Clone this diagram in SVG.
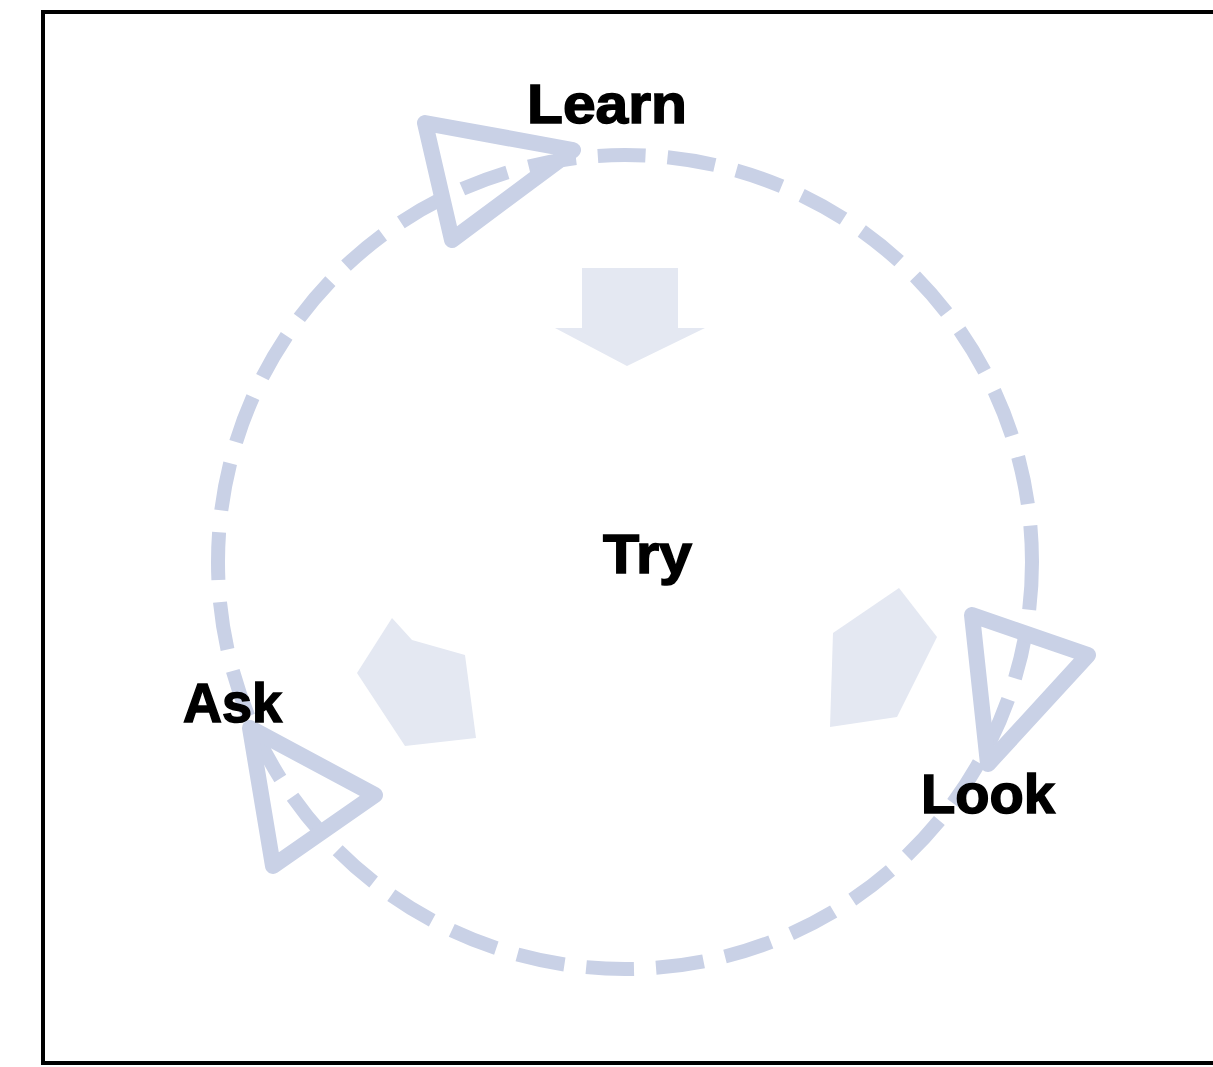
<svg xmlns="http://www.w3.org/2000/svg" width="1213" height="1067" viewBox="0 0 1213 1067">
<style>
.ring{fill:none;stroke:#c9d1e6;stroke-width:14;stroke-dasharray:48 22}
.head{fill:none;stroke:#c9d1e6;stroke-width:16;stroke-linejoin:round}
.block{fill:#e4e8f2}
.lbl{font-family:"Liberation Sans",Arial,sans-serif;font-weight:bold;font-size:56px;fill:#000;stroke:#000;stroke-width:1.5}
</style>
<rect x="0" y="0" width="1213" height="1067" fill="#fff"/>
<rect x="43" y="12" width="1190" height="1051" fill="none" stroke="#000" stroke-width="4"/>
<g id="connectors">
<circle class="ring" cx="625" cy="562" r="407"/>
<polygon class="head" points="425,123 573,150 452,240"/>
<polygon class="head" points="972,615 1088,655 988,764"/>
<polygon class="head" points="250,728 375,795 273,866"/>
<polygon class="block" points="582,268 678,268 678,328 705,328 627,366 555,328 582,328"/>
<polygon class="block" points="357,673 392,618 412,640 465,655 476,738 405,746"/>
<polygon class="block" points="899,588 833,633 830,727 897,717 937,637"/>
</g>
<g id="node-learn"><text class="lbl" x="527" y="123" textLength="160" lengthAdjust="spacingAndGlyphs">Learn</text></g>
<g id="node-try"><text class="lbl" x="603" y="573" textLength="89" lengthAdjust="spacingAndGlyphs">Try</text></g>
<g id="node-ask"><text class="lbl" x="183" y="722" textLength="99" lengthAdjust="spacingAndGlyphs">Ask</text></g>
<g id="node-look"><text class="lbl" x="921" y="813" textLength="134" lengthAdjust="spacingAndGlyphs">Look</text></g>
</svg>
